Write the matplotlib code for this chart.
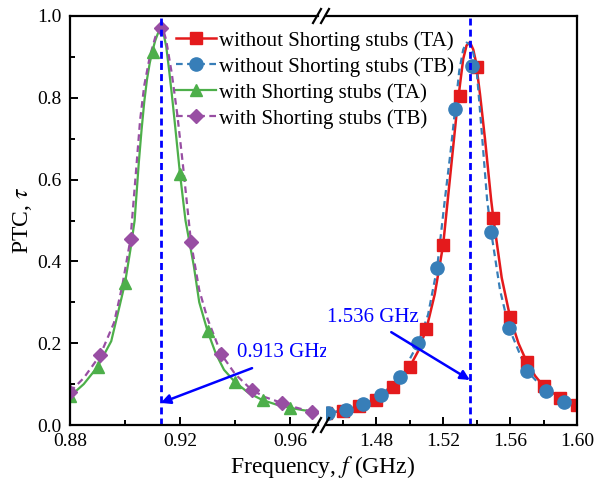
import numpy as np
import matplotlib
matplotlib.use("Agg")
import matplotlib.pyplot as plt
from matplotlib.lines import Line2D

plt.rcParams['font.family'] = ['Liberation Serif', 'DejaVu Serif']
plt.rcParams['mathtext.fontset'] = 'stix'

# ---- marker data ----
# with shorting stubs (left part of the broken axis)
f_wta = [0.880, 0.890, 0.900, 0.910, 0.920, 0.930, 0.940, 0.950, 0.960]
t_wta = [0.070, 0.142, 0.347, 0.912, 0.614, 0.230, 0.105, 0.061, 0.042]
f_wtb = [0.880, 0.891, 0.902, 0.913, 0.924, 0.935, 0.946, 0.957, 0.968]
t_wtb = [0.081, 0.171, 0.455, 0.971, 0.447, 0.173, 0.086, 0.054, 0.032]

# without shorting stubs (right part)
f_ota = [1.45, 1.46, 1.47, 1.48, 1.49, 1.50, 1.51, 1.52, 1.53, 1.54,
         1.55, 1.56, 1.57, 1.58, 1.59, 1.60]
t_ota = [0.030, 0.034, 0.046, 0.061, 0.093, 0.142, 0.235, 0.440, 0.804, 0.875,
         0.506, 0.264, 0.154, 0.095, 0.066, 0.049]
f_otb = [1.4513, 1.462, 1.4722, 1.483, 1.4943, 1.5051, 1.5164, 1.5272, 1.5375,
         1.5487, 1.5594, 1.5701, 1.5815, 1.5922]
t_otb = [0.029, 0.037, 0.051, 0.073, 0.117, 0.200, 0.384, 0.773, 0.878,
         0.472, 0.237, 0.132, 0.083, 0.056]

# ---- curve data ----
fc_wta = [0.880, 0.885, 0.890, 0.895, 0.898, 0.900, 0.902, 0.9035, 0.905, 0.906,
          0.907, 0.908, 0.909, 0.910, 0.911, 0.912, 0.913, 0.914, 0.915, 0.916,
          0.917, 0.918, 0.919, 0.920, 0.922, 0.925, 0.927, 0.930, 0.933, 0.936,
          0.940, 0.945, 0.950, 0.955, 0.960, 0.965, 0.972]
tc_wta = [0.070, 0.100, 0.142, 0.205, 0.290, 0.347, 0.430, 0.500, 0.640, 0.720,
          0.790, 0.845, 0.885, 0.915, 0.940, 0.958, 0.966, 0.958, 0.925, 0.870,
          0.810, 0.746, 0.680, 0.614, 0.500, 0.390, 0.300, 0.230, 0.175, 0.135,
          0.105, 0.078, 0.061, 0.050, 0.042, 0.036, 0.031]
fc_wtb = [0.880, 0.885, 0.891, 0.896, 0.899, 0.902, 0.904, 0.9055, 0.907, 0.909,
          0.911, 0.912, 0.913, 0.914, 0.915, 0.917, 0.919, 0.921, 0.924, 0.927,
          0.930, 0.935, 0.940, 0.946, 0.951, 0.957, 0.962, 0.968, 0.975]
tc_wtb = [0.081, 0.115, 0.171, 0.250, 0.340, 0.455, 0.620, 0.746, 0.830, 0.900,
          0.948, 0.965, 0.971, 0.965, 0.940, 0.860, 0.760, 0.640, 0.447, 0.330,
          0.260, 0.173, 0.125, 0.086, 0.068, 0.054, 0.043, 0.032, 0.028]
fc_ota = [1.447, 1.46, 1.47, 1.48, 1.49, 1.50, 1.505, 1.51, 1.515, 1.52, 1.522,
          1.525, 1.528, 1.53, 1.532, 1.534, 1.536, 1.538, 1.5395, 1.542, 1.545,
          1.5487, 1.55, 1.555, 1.56, 1.565, 1.57, 1.575, 1.58, 1.59, 1.60]
tc_ota = [0.028, 0.034, 0.046, 0.061, 0.093, 0.142, 0.180, 0.235, 0.320, 0.440, 0.520,
          0.640, 0.760, 0.830, 0.895, 0.928, 0.936, 0.918, 0.890, 0.810, 0.700,
          0.550, 0.506, 0.360, 0.264, 0.200, 0.154, 0.120, 0.095, 0.066, 0.049]
fc_otb = [1.447, 1.4513, 1.462, 1.4722, 1.483, 1.4943, 1.5051, 1.511, 1.5164, 1.521,
          1.5245, 1.5272, 1.5296, 1.532, 1.534, 1.536, 1.538, 1.540, 1.543, 1.5463,
          1.5487, 1.554, 1.5594, 1.5701, 1.5815, 1.5922, 1.60]
tc_otb = [0.026, 0.029, 0.037, 0.051, 0.073, 0.117, 0.200, 0.270, 0.384, 0.550,
          0.670, 0.773, 0.865, 0.918, 0.935, 0.930, 0.910, 0.870, 0.720, 0.550,
          0.472, 0.330, 0.237, 0.132, 0.083, 0.056, 0.045]

labels = ['without Shorting stubs (TA)', 'without Shorting stubs (TB)',
          'with Shorting stubs (TA)', 'with Shorting stubs (TB)']
f_res = [0.913, 1.536]

RED, BLUE, GREEN, PURPLE = '#E41A1C', '#377EB8', '#4DAF4A', '#984EA3'
ANN = '#0000FF'
DASH = (0, (3, 2))

W, H = 595, 483
fig = plt.figure(figsize=(W / 100, H / 100), dpi=100)
bot, top = 425, 16
ax1 = fig.add_axes([70 / W, (H - bot) / H, (317.5 - 70) / W, (bot - top) / H])
ax2 = fig.add_axes([326 / W, (H - bot) / H, (577 - 326) / W, (bot - top) / H])

# left part
ax1.plot(fc_wta, tc_wta, color=GREEN, lw=1.6)
ax1.plot(fc_wtb, tc_wtb, color=PURPLE, lw=1.6, ls=DASH)
ax1.plot(f_wta, t_wta, ls='none', marker='^', ms=9, color=GREEN)
ax1.plot(f_wtb, t_wtb, ls='none', marker='D', ms=7.5, color=PURPLE)
ax1.axvline(f_res[0], color=ANN, lw=2, ls=(0, (2.5, 1.5)))

# right part
ax2.plot(fc_ota, tc_ota, color=RED, lw=1.8)
ax2.plot(fc_otb, tc_otb, color=BLUE, lw=1.6, ls=DASH)
ax2.plot(f_ota, t_ota, ls='none', marker='s', ms=8.5, color=RED)
ax2.plot(f_otb, t_otb, ls='none', marker='o', ms=9.5, color=BLUE)
ax2.axvline(f_res[1], color=ANN, lw=2, ls=(0, (2.5, 1.5)))

ax1.set_xlim(0.88, 0.97)
ax2.set_xlim(1.45, 1.60)
for ax in (ax1, ax2):
    ax.set_ylim(0, 1.0)
    for s in ax.spines.values():
        s.set_linewidth(1.6)
    ax.tick_params(direction='in', which='major', length=6, width=1.4, labelsize=14, pad=6)
    ax.tick_params(direction='in', which='minor', length=3.5, width=1.4)
    ax.tick_params(top=False, right=False, which='both')

ax1.spines['right'].set_visible(False)
ax2.spines['left'].set_visible(False)
ax1.set_xticks([0.88, 0.92, 0.96])
ax1.set_xticklabels(['0.88', '0.92', '0.96'])
ax1.set_xticks([0.90, 0.94], minor=True)
ax1.set_yticks([0, 0.2, 0.4, 0.6, 0.8, 1.0])
ax1.set_yticklabels(['0.0', '0.2', '0.4', '0.6', '0.8', '1.0'])
ax1.set_yticks([0.1, 0.3, 0.5, 0.7, 0.9], minor=True)
ax2.set_xticks([1.48, 1.52, 1.56, 1.60])
ax2.set_xticklabels(['1.48', '1.52', '1.56', '1.60'])
ax2.set_xticks([1.46, 1.50, 1.54, 1.58], minor=True)
ax2.set_yticks([])

# break marks
for yb in (top, bot):
    for xb in (317, 325):
        fig.add_artist(Line2D([(xb - 4) / W, (xb + 4) / W],
                              [(H - yb - 7) / H, (H - yb + 7) / H],
                              color='black', lw=1.6))

# annotations
arrow = dict(arrowstyle='-|>', color=ANN, lw=1.8, shrinkA=0, shrinkB=0,
             mutation_scale=14)
ax1.annotate('', xy=(f_res[0], 0.054), xytext=(0.9462, 0.139),
             arrowprops=arrow, annotation_clip=False)
ax1.text(0.9407, 0.178, '0.913 GHz', fontsize=15, color=ANN,
         ha='left', va='center', clip_on=False)
ax2.annotate('', xy=(f_res[1], 0.110), xytext=(1.489, 0.227),
             arrowprops=arrow, annotation_clip=False)
ax2.text(1.4507, 0.262, '1.536 GHz', fontsize=15, color=ANN,
         ha='left', va='center', clip_on=False)

fig.text(323 / W, (H - 467) / H, r'Frequency, $f$ (GHz)', fontsize=17,
         ha='center', va='center')
fig.text(22 / W, (H - 220) / H, r'PTC, $\tau$', fontsize=17,
         ha='center', va='center', rotation=90)

handles = [
    Line2D([], [], color=RED, lw=1.8, marker='s', ms=8.5),
    Line2D([], [], color=BLUE, lw=1.6, ls=DASH, marker='o', ms=9.5),
    Line2D([], [], color=GREEN, lw=1.6, marker='^', ms=9),
    Line2D([], [], color=PURPLE, lw=1.6, ls=DASH, marker='D', ms=7.5),
]
fig.legend(handles, labels, loc='upper left', bbox_to_anchor=(176 / W, 1 - 31 / H),
           frameon=False, fontsize=15, handlelength=1.9, handletextpad=0.15,
           labelspacing=0.3, borderpad=0, borderaxespad=0)

fig.savefig('out.png', dpi=100)
